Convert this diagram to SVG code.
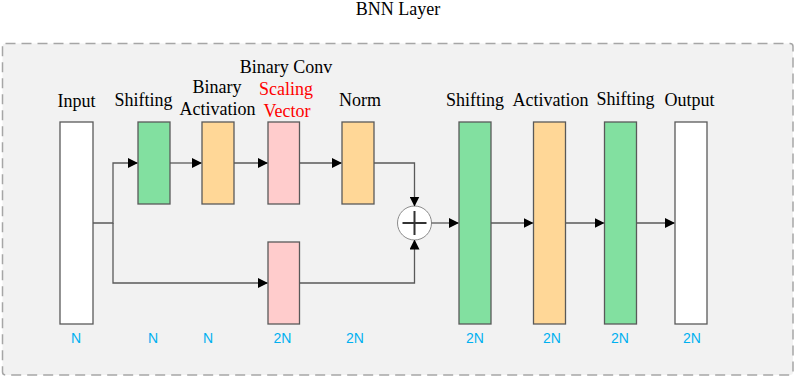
<svg xmlns="http://www.w3.org/2000/svg" width="796" height="378" viewBox="0 0 796 378">
<style>
.lbl{font-family:"Liberation Serif","Times New Roman",serif;font-size:18px;fill:#000;text-anchor:middle}
.red{fill:#FF0000}
.dim{font-family:"Liberation Sans",Arial,sans-serif;font-size:14px;fill:#00B0F0;text-anchor:middle}
.blk{stroke:#595959;stroke-width:1.3}
.w{fill:#FFFFFF}.g{fill:#82E0A0}.o{fill:#FFD797}.p{fill:#FFCCCC}
.ln{fill:none;stroke:#595959;stroke-width:1.3}
</style>
<defs>
<marker id="ah" markerWidth="10" markerHeight="10" refX="9" refY="5" orient="auto" markerUnits="userSpaceOnUse">
<path d="M0,0 L10,5 L0,10 Z" fill="#000"/>
</marker>
</defs>
<rect width="796" height="378" fill="#FFFFFF"/>
<text class="lbl" x="398" y="15">BNN Layer</text>
<rect x="2.5" y="43.5" width="790.5" height="331.5" rx="3" fill="#F2F2F2" stroke="#A6A6A6" stroke-width="1.5" stroke-dasharray="10,6"/>

<g id="input"><rect class="blk w" x="60" y="122" width="33" height="202"/><text class="lbl" x="76.5" y="107">Input</text><text class="dim" x="76" y="343">N</text></g>
<g id="shift1"><rect class="blk g" x="138" y="122" width="32" height="82"/><text class="lbl" x="143.5" y="106">Shifting</text><text class="dim" x="153" y="343">N</text></g>
<g id="binact"><rect class="blk o" x="202" y="122" width="32" height="82"/><text class="lbl" x="217" y="93">Binary</text><text class="lbl" x="217.5" y="115">Activation</text><text class="dim" x="208" y="343">N</text></g>
<g id="binconv"><rect class="blk p" x="268" y="122" width="31.5" height="82"/><text class="lbl" x="286" y="73">Binary Conv</text><text class="lbl red" x="286" y="95">Scaling</text><text class="lbl red" x="287" y="117">Vector</text><text class="dim" x="282.5" y="343">2N</text></g>
<g id="norm"><rect class="blk o" x="342" y="122" width="32" height="82"/><text class="lbl" x="360" y="106">Norm</text><text class="dim" x="355" y="343">2N</text></g>
<g id="conv2"><rect class="blk p" x="268" y="242" width="31.5" height="82"/></g>
<g id="add"><circle cx="414.5" cy="223" r="17" fill="#FFFFFF" stroke="#8C8C8C" stroke-width="1"/><path d="M402.5,223 H426.5 M414.5,211 V235" stroke="#333" stroke-width="2"/></g>
<g id="shift2"><rect class="blk g" x="459" y="122" width="32" height="202"/><text class="lbl" x="475" y="106">Shifting</text><text class="dim" x="475" y="343">2N</text></g>
<g id="act"><rect class="blk o" x="533.5" y="122" width="32" height="202"/><text class="lbl" x="550.5" y="106">Activation</text><text class="dim" x="552" y="343">2N</text></g>
<g id="shift3"><rect class="blk g" x="604.5" y="122" width="32" height="202"/><text class="lbl" x="625.5" y="105">Shifting</text><text class="dim" x="620" y="343">2N</text></g>
<g id="output"><rect class="blk w" x="675" y="122" width="32" height="202"/><text class="lbl" x="689.5" y="106">Output</text><text class="dim" x="692" y="343">2N</text></g>

<g id="connectors">
<path class="ln" d="M93,223 H113 V163 H137" marker-end="url(#ah)"/>
<path class="ln" d="M113,223 V283 H267" marker-end="url(#ah)"/>
<path class="ln" d="M170,163 H201" marker-end="url(#ah)"/>
<path class="ln" d="M234,163 H267" marker-end="url(#ah)"/>
<path class="ln" d="M299.5,163 H341" marker-end="url(#ah)"/>
<path class="ln" d="M374,163 H414.5 V205.5" marker-end="url(#ah)"/>
<path class="ln" d="M299.5,283 H414.5 V240.5" marker-end="url(#ah)"/>
<path class="ln" d="M431.5,223 H458" marker-end="url(#ah)"/>
<path class="ln" d="M491,223 H532.5" marker-end="url(#ah)"/>
<path class="ln" d="M565.5,223 H603.5" marker-end="url(#ah)"/>
<path class="ln" d="M636.5,223 H674" marker-end="url(#ah)"/>
</g>
</svg>
